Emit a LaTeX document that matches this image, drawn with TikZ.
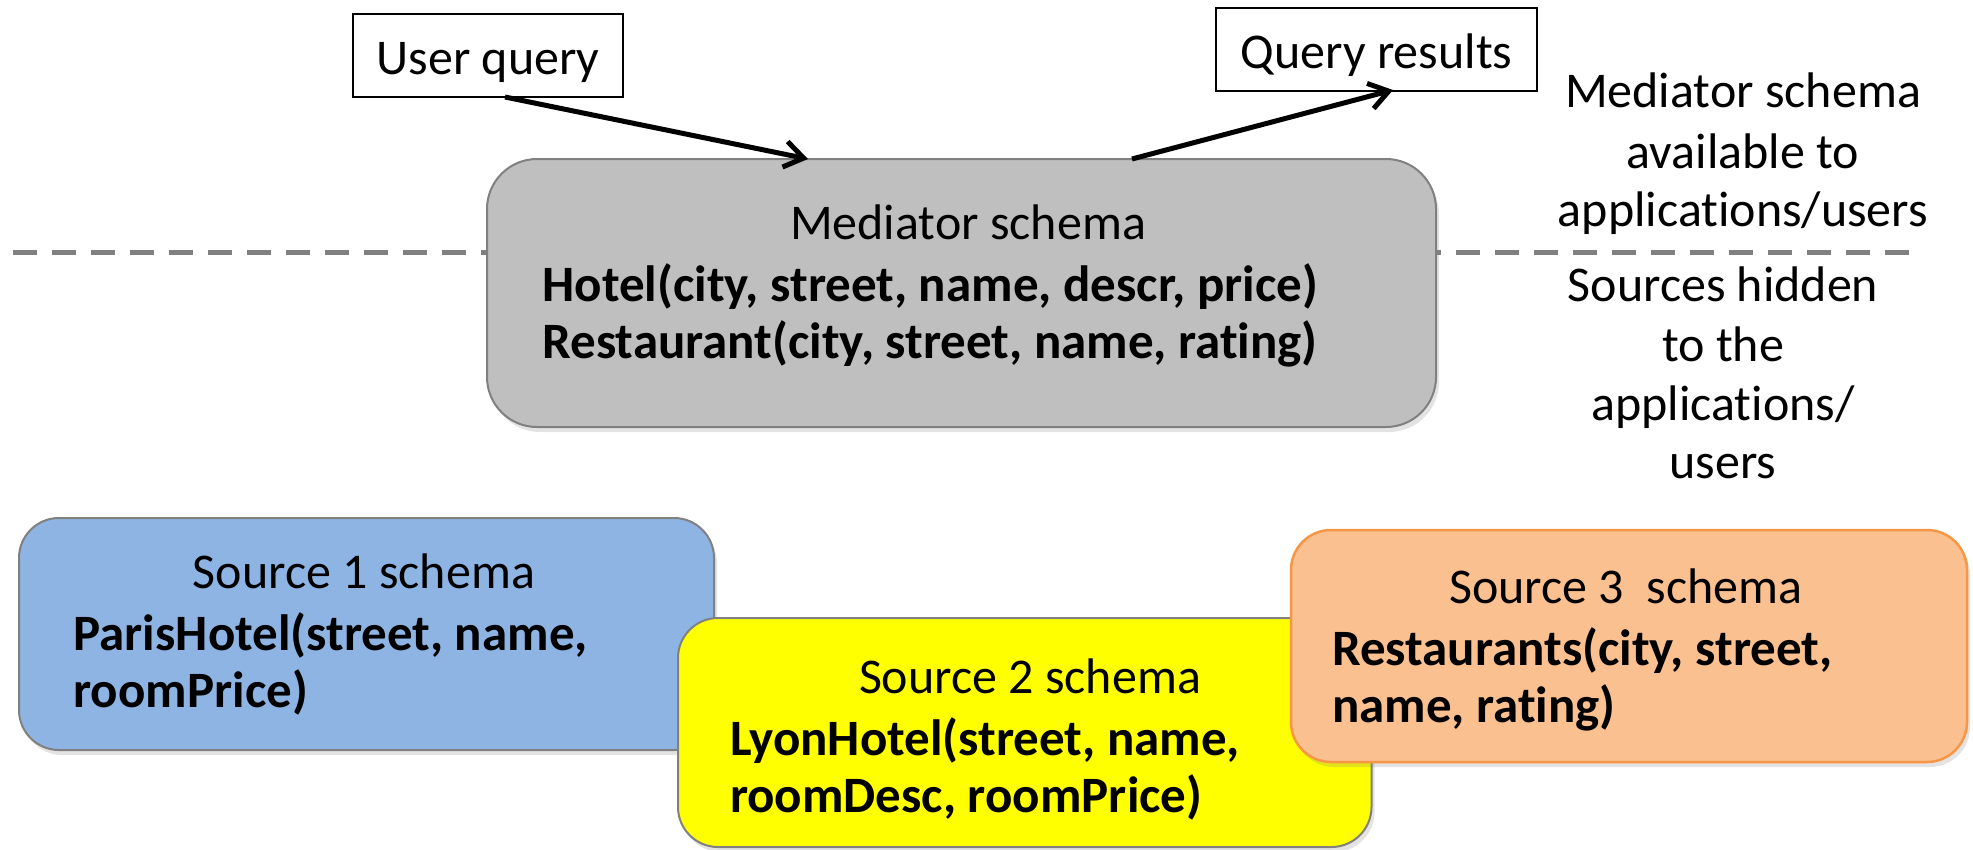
\documentclass[tikz,border=0pt]{standalone}
\usepackage{fontspec}
\setmainfont{Carlito}[Ligatures=NoCommon]
\usetikzlibrary{arrows.meta,shadows}
\definecolor{medfill}{HTML}{BFBFBF}
\definecolor{boxline}{HTML}{808080}
\definecolor{s1fill}{HTML}{8EB4E3}
\definecolor{s2fill}{HTML}{FFFF00}
\definecolor{s3fill}{HTML}{FAC090}
\definecolor{s3line}{HTML}{F79646}
\tikzset{
  every node/.style={inner sep=0pt, outer sep=0pt, font=\fontsize{50pt}{60pt}\selectfont},
  labelbox/.style={draw=black, line width=1.6pt, text height=60pt, text depth=23pt, anchor=base, align=center},
  schemabox/.style={rounded corners=#1, line width=2pt,
     drop shadow={opacity=0.22, shadow xshift=3pt, shadow yshift=-5pt}},
  title/.style={anchor=base},
  attr/.style={anchor=base west, font=\fontsize{51pt}{60pt}\selectfont\bfseries},
  side/.style={anchor=base},
  arr/.style={line width=5pt, -{Straight Barb[length=19pt,width=26pt,line width=5pt]}},
  divider/.style={draw=boxline, line width=5pt, dash pattern=on 24pt off 15pt}
}
\begin{document}
\begin{tikzpicture}[x=1pt,y=-1pt]
\useasboundingbox (0,0) rectangle (1973,849);

% divider
\coordinate (dl) at (13,252);
\coordinate (dr) at (1910,252);
\draw[divider] (dl) -- (dr);

% top labels
\node[labelbox, minimum width=270pt] (uq) at (488,74) {User query};
\node[labelbox, minimum width=321pt] (qr) at (1376.5,68) {Query results};

% mediator
\node[schemabox=50pt, fill=medfill, draw=boxline, minimum width=949pt, minimum height=268pt] (med) at (961.5,293) {};
\node[title] (medt) at (968,239) {Mediator schema};
\node[attr] (medh) at (542.5,301) {Hotel(city, street, name, descr, price)};
\node[attr] (medr) at (542.5,358) {Restaurant(city, street, name, rating)};

% arrows
\draw[arr] ([xshift=17pt]uq.south) -- ([xshift=-153.5pt]med.north);
\draw[arr] ([xshift=170.5pt]med.north) -- ([xshift=16.5pt,yshift=1pt]qr.south);

% side texts
\node[side] (a1) at (1743,107) {Mediator schema};
\node[side] (a2) at (1743,168) {available to};
\node[side] (a3) at (1743,226) {applications/users};
\node[side] (b1) at (1723,301) {Sources hidden};
\node[side] (b2) at (1723,361) {to the};
\node[side] (b3) at (1723,420) {applications/};
\node[side] (b4) at (1723,478) {users};

% source 1
\node[schemabox=40pt, fill=s1fill, draw=boxline, minimum width=695pt, minimum height=232pt] (s1) at (366.5,634) {};
\node[title] (s1t) at (364,588) {Source 1 schema};
\node[attr] (s1a) at (73.5,650) {ParisHotel(street, name,};
\node[attr] (s1b) at (73.5,707) {roomPrice)};

% source 2
\node[schemabox=40pt, fill=s2fill, draw=boxline, minimum width=693.5pt, minimum height=229pt] (s2) at (1024.75,732.5) {};
\node[title] (s2t) at (1030,693) {Source 2 schema};
\node[attr] (s2a) at (730,755) {LyonHotel(street, name,};
\node[attr] (s2b) at (730,812) {roomDesc, roomPrice)};

% source 3
\node[schemabox=40pt, fill=s3fill, draw=s3line, line width=2.5pt, minimum width=676pt, minimum height=232pt] (s3) at (1629,646) {};
\node[title] (s3t) at (1626,603) {Source 3\ \ schema};
\node[attr] (s3a) at (1332,665) {Restaurants(city, street,};
\node[attr] (s3b) at (1332,722) {name, rating)};
\end{tikzpicture}
\end{document}
